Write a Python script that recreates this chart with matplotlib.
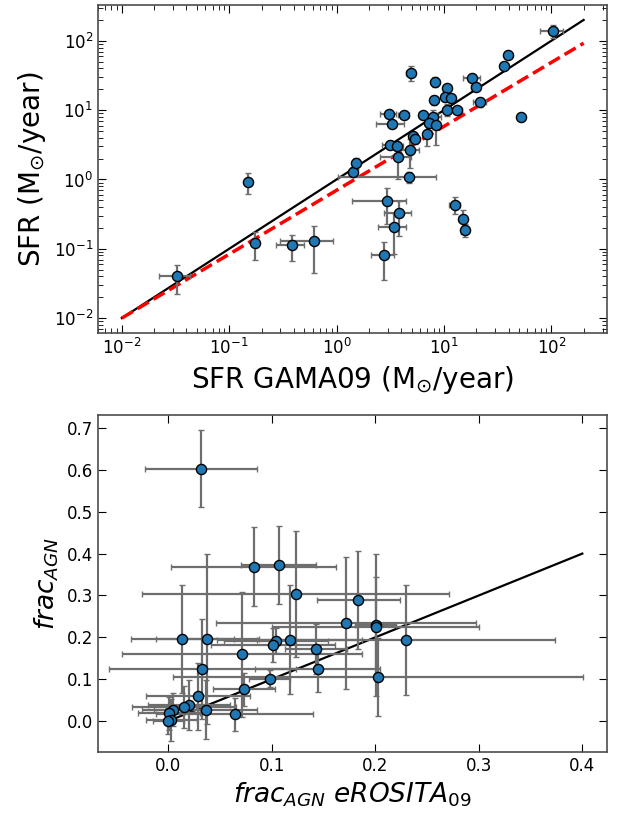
import numpy as np
import matplotlib
matplotlib.use("Agg")
from matplotlib import pyplot as plt

# --- top panel: SFR comparison ---
sfr_gama = [0.0328, 0.151, 0.173, 0.383, 0.616, 1.41, 1.51, 103.7, 39.2, 36.5,
            4.92, 8.3, 18.4, 19.9, 10.7, 10.3, 11.7, 8.07, 21.8, 10.7,
            13.1, 3.05, 4.24, 6.39, 7.91, 52.0, 3.30, 7.21, 8.37, 5.17,
            5.35, 7.0, 3.14, 3.62, 4.81, 3.75, 4.74, 2.93, 3.85, 3.44,
            2.78, 12.7, 15.1, 15.6]
sfr_fit = [0.0404, 0.93, 0.12, 0.113, 0.128, 1.30, 1.73, 138, 62.1, 44.0,
           34.8, 25.6, 28.6, 21.9, 20.9, 15.4, 14.8, 13.9, 13.2, 10.1,
           10.1, 8.83, 8.63, 8.54, 8.0, 7.9, 6.27, 6.6, 6.12, 4.3,
           3.80, 4.54, 3.18, 3.01, 2.64, 2.11, 1.10, 0.49, 0.325, 0.204,
           0.080, 0.433, 0.266, 0.187]
sfr_gama_err = [0.0105, 0.01, 0.01, 0.11, 0.32, 0.1, 0.08, 25, 2, 2,
                0.47, 0.5, 3.4, 2, 0.5, 0.8, 1, 0.5, 3, 0.8,
                1.5, 0.53, 0.5, 0.5, 1.5, 2, 0.98, 0.5, 0.5, 0.3,
                0.3, 0.3, 0.5, 0.5, 1.0, 1.2, 3.7, 1.55, 1.07, 1.03,
                0.67, 1.5, 1.3, 1.0]
sfr_fit_err = [0.018, 0.31, 0.052, 0.047, 0.083, 0.2, 0.3, 30, 5, 4,
               8.9, 4, 3, 2, 2, 2, 1.5, 2, 2, 2,
               1, 0.8, 0.6, 1, 2, 0.8, 0.6, 1.5, 3, 0.5,
               0.5, 1.5, 0.4, 0.4, 1.2, 1.1, 0.2, 0.26, 0.17, 0.12,
               0.045, 0.12, 0.1, 0.04]
# power-law fit (log y = slope * log x + intercept)
fit_slope = 0.922
fit_intercept = -0.156

# --- bottom panel: AGN fraction ---
frac_ero = [0.0316, 0.0823, 0.1065, 0.123, 0.1835, 0.1716, 0.0135, 0.0377, 0.0716, 0.1039,
            0.1013, 0.1174, 0.1423, 0.1442, 0.0329, 0.098, 0.0729, 0.0287, 0.020, 0.0151,
            0.0361, 0.0045, 0.0003, 0.003, 0.0, 0.0642, 0.2004, 0.2004, 0.2294, 0.2023]
frac_fit = [0.603, 0.369, 0.372, 0.303, 0.289, 0.234, 0.196, 0.196, 0.159, 0.192,
            0.182, 0.194, 0.1715, 0.1244, 0.1237, 0.101, 0.0758, 0.0598, 0.0383, 0.0335,
            0.027, 0.027, 0.0183, 0.0024, 0.0, 0.016, 0.2297, 0.224, 0.194, 0.105]
frac_ero_err = [0.0545, 0.08, 0.036, 0.148, 0.04, 0.126, 0.05, 0.05, 0.116, 0.05,
                0.06, 0.07, 0.03, 0.06, 0.09, 0.02, 0.03, 0.05, 0.04, 0.05,
                0.05, 0.03, 0.03, 0.025, 0.015, 0.076, 0.02, 0.1, 0.144, 0.198]
frac_fit_err = [0.092, 0.094, 0.093, 0.15, 0.118, 0.158, 0.13, 0.204, 0.15, 0.03,
                0.04, 0.13, 0.06, 0.055, 0.12, 0.02, 0.04, 0.08, 0.06, 0.05,
                0.07, 0.04, 0.04, 0.05, 0.03, 0.04, 0.17, 0.12, 0.132, 0.094]

fig = plt.figure(figsize=(6.24, 8.13), dpi=100)
ax1 = fig.add_axes([0.157, 0.5904, 0.816, 0.4034])
ax2 = fig.add_axes([0.157, 0.075, 0.816, 0.4145])

err_kw = dict(fmt="o", color="#1f77b4", mec="k", mew=1.0, ms=7.3,
              ecolor="#6e6e6e", elinewidth=1.6, capsize=2, capthick=1, zorder=3)

ax1.errorbar(sfr_gama, sfr_fit, xerr=sfr_gama_err, yerr=sfr_fit_err, **err_kw)
xx = np.array([0.01, 200])
ax1.plot(xx, xx, color="k", lw=1.6, zorder=2)
ax1.plot(xx, 10 ** (fit_slope * np.log10(xx) + fit_intercept), "--", color="red", lw=2.5, zorder=2)
ax1.set_xscale("log")
ax1.set_yscale("log")
ax1.set_xlim(10 ** -2.222, 10 ** 2.52)
ax1.set_ylim(10 ** -2.215, 10 ** 2.516)
ax1.set_xlabel(r"SFR GAMA09 (M$_{\odot}$/year)", fontsize=20)
ax1.set_ylabel(r"SFR (M$_{\odot}$/year)", fontsize=20)

ax2.errorbar(frac_ero, frac_fit, xerr=frac_ero_err, yerr=frac_fit_err, **err_kw)
ax2.plot([0, 0.4], [0, 0.4], color="k", lw=1.6, zorder=2)
ax2.set_xlim(-0.068, 0.424)
ax2.set_ylim(-0.074, 0.731)
ax2.set_xticks([0.0, 0.1, 0.2, 0.3, 0.4])
ax2.set_yticks(np.arange(0, 0.71, 0.1))
ax2.set_xlabel(r"$frac_{AGN}$ $eROSITA_{09}$", fontsize=19)
ax2.set_ylabel(r"$frac_{AGN}$", fontsize=19)

for ax in (ax1, ax2):
    ax.tick_params(which="both", direction="in", top=True, right=True, labelsize=12)
    ax.tick_params(which="major", length=6)
    ax.tick_params(which="minor", length=3.5)
    for s in ax.spines.values():
        s.set_color("0.3")
        s.set_linewidth(1.2)

fig.savefig("out.png", dpi=100)
